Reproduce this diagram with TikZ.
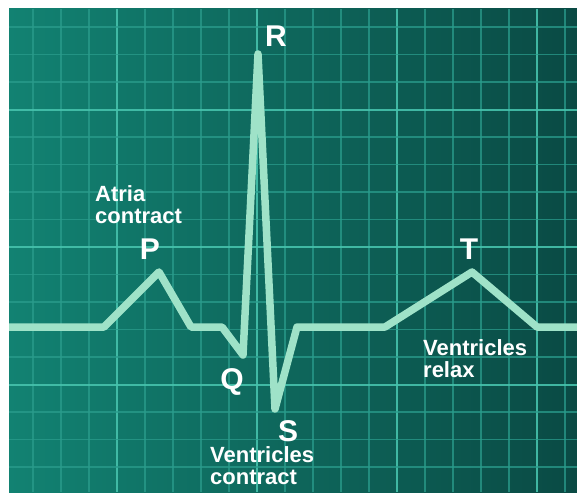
\documentclass[tikz,border=0pt]{standalone}
\usepackage{fontspec}
\setmainfont{Liberation Sans}
\definecolor{bgleft}{HTML}{128272}
\definecolor{bgright}{HTML}{0A4A44}
\definecolor{gridminor}{HTML}{2A9C8C}
\definecolor{gridmajor}{HTML}{46C2AC}
\definecolor{trace}{HTML}{9FE2C8}

\begin{document}
\begin{tikzpicture}[x=1pt, y=-1pt,
    minorline/.style={gridminor, line width=1.4pt, opacity=0.75},
    majorline/.style={gridmajor, line width=2pt, opacity=0.9},
    wave/.style={trace, line width=7.5pt, line join=round},
    peaklbl/.style={white, font=\bfseries\fontsize{30}{30}\selectfont, inner sep=0pt},
    phaselbl/.style={white, font=\bfseries\fontsize{22}{22}\selectfont, align=left, inner sep=0pt, anchor=north west}]
  \useasboundingbox (0,0) rectangle (577,492);
  \shade[left color=bgleft, right color=bgright] (9,9) rectangle (577,492);
  \begin{scope}
    \clip (9,9) rectangle (577,492);
    \foreach \i in {1,...,20} {
      \pgfmathtruncatemacro{\m}{mod(\i+1,5)}
      \ifnum\m=0 \draw[majorline] ({5+28*\i},9) -- ({5+28*\i},492);
      \else \draw[minorline] ({5+28*\i},9) -- ({5+28*\i},492); \fi
    }
    \foreach \j in {1,...,17} {
      \pgfmathtruncatemacro{\m}{mod(\j+1,5)}
      \ifnum\m=0 \draw[majorline] (9,{-0.5+27.5*\j}) -- (577,{-0.5+27.5*\j});
      \else \draw[minorline] (9,{-0.5+27.5*\j}) -- (577,{-0.5+27.5*\j}); \fi
    }
    \coordinate (start) at (9,327);
    \coordinate (p0) at (104,327);
    \coordinate (pkP) at (159,272);
    \coordinate (p1) at (191,327);
    \coordinate (q0) at (222,327);
    \coordinate (pkQ) at (243,355);
    \coordinate (pkR) at (258,54);
    \coordinate (pkS) at (275,409);
    \coordinate (s1) at (297,327);
    \coordinate (t0) at (385,327);
    \coordinate (pkT) at (472,272);
    \coordinate (t1) at (537,327);
    \coordinate (end) at (577,327);
    \draw[wave] (start) -- (p0) -- (pkP) -- (p1) -- (q0) -- (pkQ) -- (pkR)
      -- (pkS) -- (s1) -- (t0) -- (pkT) -- (t1) -- (end);
  \end{scope}
  \node[peaklbl] (lblR) at (276,36) {R};
  \node[peaklbl] (lblP) at (150,249) {P};
  \node[peaklbl] (lblQ) at (232,382) {Q};
  \node[peaklbl] (lblS) at (288,431) {S};
  \node[peaklbl] (lblT) at (469,249) {T};
  \node[phaselbl] (atria) at (95,185) {Atria\\contract};
  \node[phaselbl] (vcontract) at (210,446) {Ventricles\\contract};
  \node[phaselbl] (vrelax) at (423,339) {Ventricles\\relax};
\end{tikzpicture}
\end{document}
